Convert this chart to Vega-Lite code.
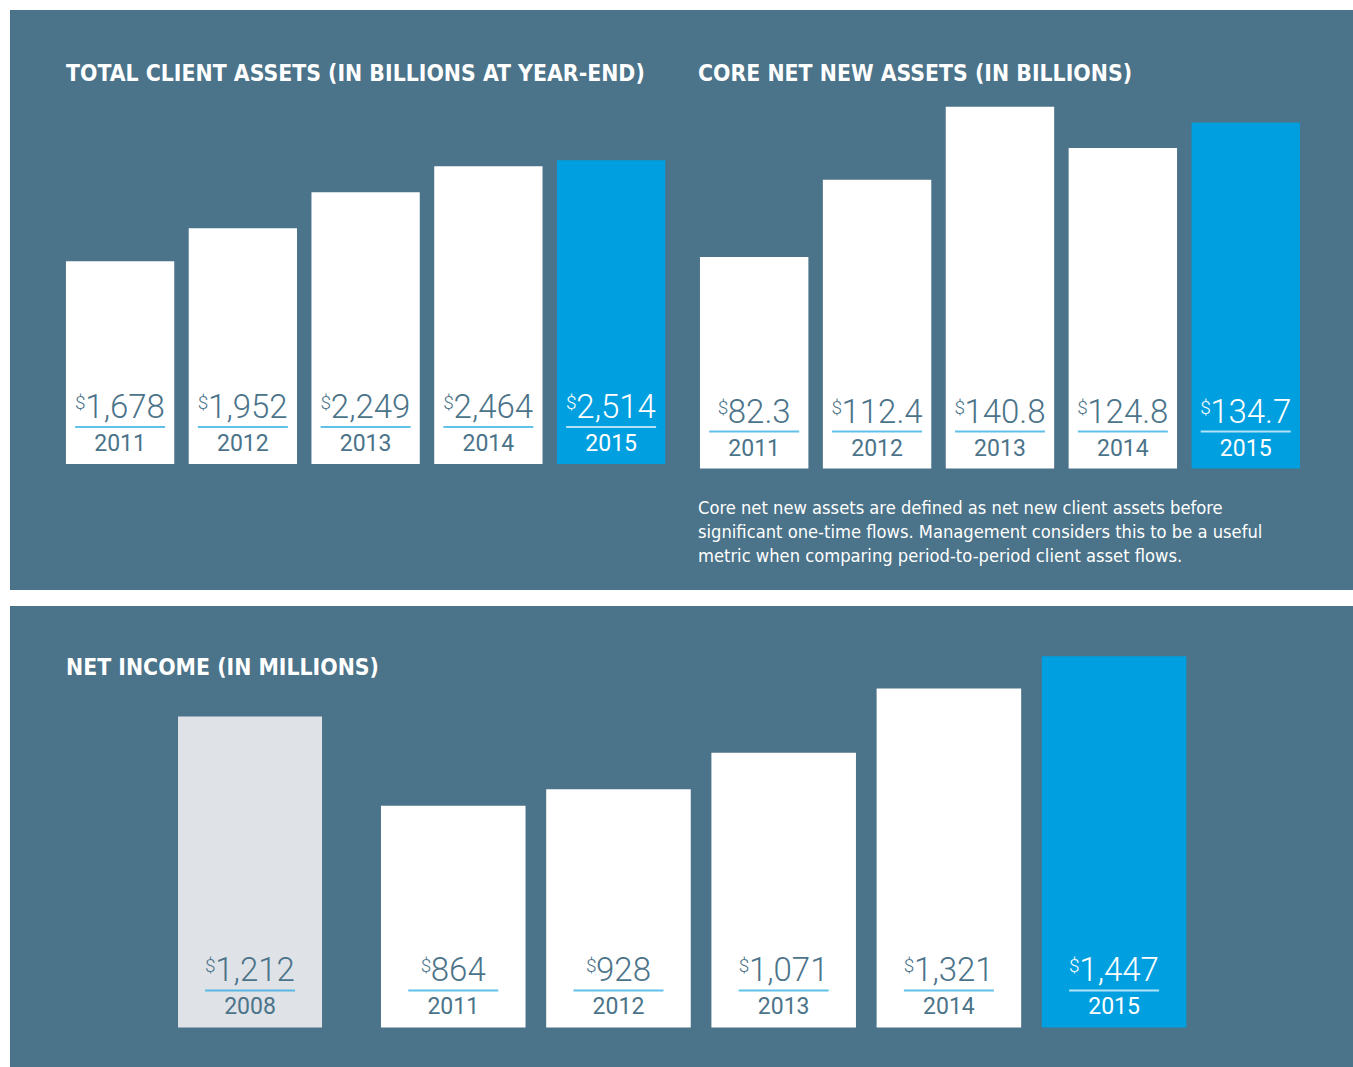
{
  "$schema": "https://vega.github.io/schema/vega-lite/v6.json",
  "background": "white",
  "padding": {"left": 10, "top": 10, "right": 0, "bottom": 0},
  "spacing": 16,
  "config": {
    "view": {"stroke": null, "fill": "#4b7389"},
    "text": {"font": "Roboto"}
  },
  "vconcat": [
    {
      "hconcat": [
        {
          "width": 672,
          "height": 580,
          "title": {"text": "TOTAL CLIENT ASSETS (IN BILLIONS AT YEAR-END)", "anchor": "start", "frame": "group", "orient": "top", "offset": -94, "dx": 56, "baseline": "alphabetic", "font": "DejaVu Sans Condensed", "fontWeight": "bold", "fontSize": 22.8, "color": "white"},
          "data": {"values": [
            {"year": "2011", "assets": 1678, "label": "1,678"},
            {"year": "2012", "assets": 1952, "label": "1,952"},
            {"year": "2013", "assets": 2249, "label": "2,249"},
            {"year": "2014", "assets": 2464, "label": "2,464"},
            {"year": "2015", "assets": 2514, "label": "2,514"}
          ]},
          "encoding": {
            "x": {"field": "year", "type": "ordinal", "axis": null, "scale": {"paddingInner": 0.1177, "paddingOuter": 0.296, "align": 0.77, "round": false}}
          },
          "layer": [
            {"mark": {"type": "bar"}, "encoding": {
              "y": {"field": "assets", "type": "quantitative", "axis": null, "scale": {"domain": [-1043, 3758], "nice": false, "zero": false}},
              "y2": {"datum": 0},
              "color": {"condition": {"test": "datum.year == '2015'", "value": "#009fdf"}, "value": "white"}
            }},
            {"mark": {"type": "text", "font": "Roboto", "fontWeight": 300, "fontSize": 33, "align": "center", "baseline": "alphabetic", "dx": 5, "dy": -46}, "encoding": {
              "y": {"datum": 0}, "text": {"field": "label"},
              "color": {"condition": {"test": "datum.year == '2015'", "value": "white"}, "value": "#4b7389"}
            }},
            {"mark": {"type": "text", "text": "$", "font": "Roboto", "fontWeight": 300, "fontSize": 19, "align": "right", "baseline": "alphabetic", "dx": -34.5, "dy": -55}, "encoding": {
              "y": {"datum": 0},
              "color": {"condition": {"test": "datum.year == '2015'", "value": "white"}, "value": "#4b7389"}
            }},
            {"mark": {"type": "tick", "orient": "horizontal", "size": 90, "thickness": 2, "yOffset": -37}, "encoding": {
              "y": {"datum": 0},
              "color": {"condition": {"test": "datum.year == '2015'", "value": "white"}, "value": "#1ea6df"}
            }},
            {"mark": {"type": "text", "font": "Roboto", "fontSize": 23, "align": "center", "baseline": "alphabetic", "dy": -13}, "encoding": {
              "y": {"datum": 0}, "text": {"field": "year"},
              "color": {"condition": {"test": "datum.year == '2015'", "value": "white"}, "value": "#4b7389"}
            }}
          ]
        },
        {
          "width": 671,
          "height": 580,
          "title": {"text": "CORE NET NEW ASSETS (IN BILLIONS)", "anchor": "start", "frame": "group", "orient": "top", "offset": -94, "dx": 16, "baseline": "alphabetic", "font": "DejaVu Sans Condensed", "fontWeight": "bold", "fontSize": 22.8, "color": "white"},
          "data": {"values": [
            {"year": "2011", "assets": 82.3, "label": "82.3"},
            {"year": "2012", "assets": 112.4, "label": "112.4"},
            {"year": "2013", "assets": 140.8, "label": "140.8"},
            {"year": "2014", "assets": 124.8, "label": "124.8"},
            {"year": "2015", "assets": 134.7, "label": "134.7"}
          ]},
          "encoding": {
            "x": {"field": "year", "type": "ordinal", "axis": null, "scale": {"paddingInner": 0.1177, "paddingOuter": 0.289, "align": 0.253, "round": false}}
          },
          "layer": [
            {"mark": {"type": "bar"}, "encoding": {
              "y": {"field": "assets", "type": "quantitative", "axis": null, "scale": {"domain": [-47.3, 178.5], "nice": false, "zero": false}},
              "y2": {"datum": 0},
              "color": {"condition": {"test": "datum.year == '2015'", "value": "#009fdf"}, "value": "white"}
            }},
            {"mark": {"type": "text", "font": "Roboto", "fontWeight": 300, "fontSize": 33, "align": "center", "baseline": "alphabetic", "dx": 5, "dy": -46}, "encoding": {
              "y": {"datum": 0}, "text": {"field": "label"},
              "color": {"condition": {"test": "datum.year == '2015'", "value": "white"}, "value": "#4b7389"}
            }},
            {"transform": [{"filter": "length(datum.label) == 4"}],
             "mark": {"type": "text", "text": "$", "font": "Roboto", "fontWeight": 300, "fontSize": 19, "align": "right", "baseline": "alphabetic", "dx": -26, "dy": -55}, "encoding": {
              "y": {"datum": 0},
              "color": {"condition": {"test": "datum.year == '2015'", "value": "white"}, "value": "#4b7389"}
            }},
            {"transform": [{"filter": "length(datum.label) == 5"}],
             "mark": {"type": "text", "text": "$", "font": "Roboto", "fontWeight": 300, "fontSize": 19, "align": "right", "baseline": "alphabetic", "dx": -35, "dy": -55}, "encoding": {
              "y": {"datum": 0},
              "color": {"condition": {"test": "datum.year == '2015'", "value": "white"}, "value": "#4b7389"}
            }},
            {"mark": {"type": "tick", "orient": "horizontal", "size": 90, "thickness": 2, "yOffset": -37}, "encoding": {
              "y": {"datum": 0},
              "color": {"condition": {"test": "datum.year == '2015'", "value": "white"}, "value": "#1ea6df"}
            }},
            {"mark": {"type": "text", "font": "Roboto", "fontSize": 23, "align": "center", "baseline": "alphabetic", "dy": -13}, "encoding": {
              "y": {"datum": 0}, "text": {"field": "year"},
              "color": {"condition": {"test": "datum.year == '2015'", "value": "white"}, "value": "#4b7389"}
            }},
            {"data": {"values": [{"caption": ["Core net new assets are defined as net new client assets before", "significant one-time flows. Management considers this to be a useful", "metric when comparing period-to-period client asset flows."]}]},
             "mark": {"type": "text", "font": "DejaVu Sans Condensed", "fontSize": 18.2, "lineHeight": 24, "align": "left", "baseline": "alphabetic", "dx": -2, "dy": 45, "color": "white"},
             "encoding": {
              "x": {"datum": "2011", "type": "ordinal", "bandPosition": 0},
              "y": {"datum": 0},
              "text": {"field": "caption"}
            }}
          ]
        }
      ],
      "spacing": 0
    },
    {
      "title": {"text": "NET INCOME (IN MILLIONS)", "anchor": "start", "frame": "group", "orient": "top", "offset": -92, "dx": 56, "baseline": "alphabetic", "font": "DejaVu Sans Condensed", "fontWeight": "bold", "fontSize": 22.8, "color": "white"},
      "hconcat": [
        {
          "width": 341,
          "height": 461,
          "data": {"values": [
            {"year": "2008", "income": 1212, "label": "1,212"}
          ]},
          "encoding": {
            "x": {"field": "year", "type": "ordinal", "axis": null, "scale": {"paddingInner": 0, "paddingOuter": 0.684, "align": 0.853, "round": false}}
          },
          "layer": [
            {"mark": {"type": "bar", "color": "#dfe2e7"}, "encoding": {
              "y": {"field": "income", "type": "quantitative", "axis": null, "scale": {"domain": [-154, 1642.4], "nice": false, "zero": false}},
              "y2": {"datum": 0}
            }},
            {"mark": {"type": "text", "font": "Roboto", "fontWeight": 300, "fontSize": 33, "align": "center", "baseline": "alphabetic", "dx": 5, "dy": -46, "color": "#4b7389"}, "encoding": {
              "y": {"datum": 0}, "text": {"field": "label"}
            }},
            {"mark": {"type": "text", "text": "$", "font": "Roboto", "fontWeight": 300, "fontSize": 19, "align": "right", "baseline": "alphabetic", "dx": -34.5, "dy": -55, "color": "#4b7389"}, "encoding": {
              "y": {"datum": 0}
            }},
            {"mark": {"type": "tick", "orient": "horizontal", "size": 90, "thickness": 2, "yOffset": -37, "color": "#1ea6df"}, "encoding": {
              "y": {"datum": 0}
            }},
            {"mark": {"type": "text", "font": "Roboto", "fontSize": 23, "align": "center", "baseline": "alphabetic", "dy": -13, "color": "#4b7389"}, "encoding": {
              "y": {"datum": 0}, "text": {"field": "year"}
            }}
          ]
        },
        {
          "width": 1002,
          "height": 461,
          "data": {"values": [
            {"year": "2011", "income": 864, "label": "864"},
            {"year": "2012", "income": 928, "label": "928"},
            {"year": "2013", "income": 1071, "label": "1,071"},
            {"year": "2014", "income": 1321, "label": "1,321"},
            {"year": "2015", "income": 1447, "label": "1,447"}
          ]},
          "encoding": {
            "x": {"field": "year", "type": "ordinal", "axis": null, "scale": {"paddingInner": 0.125, "paddingOuter": 0.595, "align": 0.1525, "round": false}}
          },
          "layer": [
            {"mark": {"type": "bar"}, "encoding": {
              "y": {"field": "income", "type": "quantitative", "axis": null, "scale": {"domain": [-154, 1642.4], "nice": false, "zero": false}},
              "y2": {"datum": 0},
              "color": {"condition": {"test": "datum.year == '2015'", "value": "#009fdf"}, "value": "white"}
            }},
            {"mark": {"type": "text", "font": "Roboto", "fontWeight": 300, "fontSize": 33, "align": "center", "baseline": "alphabetic", "dx": 5, "dy": -46}, "encoding": {
              "y": {"datum": 0}, "text": {"field": "label"},
              "color": {"condition": {"test": "datum.year == '2015'", "value": "white"}, "value": "#4b7389"}
            }},
            {"transform": [{"filter": "length(datum.label) == 3"}],
             "mark": {"type": "text", "text": "$", "font": "Roboto", "fontWeight": 300, "fontSize": 19, "align": "right", "baseline": "alphabetic", "dx": -22, "dy": -55}, "encoding": {
              "y": {"datum": 0},
              "color": {"condition": {"test": "datum.year == '2015'", "value": "white"}, "value": "#4b7389"}
            }},
            {"transform": [{"filter": "length(datum.label) == 5"}],
             "mark": {"type": "text", "text": "$", "font": "Roboto", "fontWeight": 300, "fontSize": 19, "align": "right", "baseline": "alphabetic", "dx": -34.5, "dy": -55}, "encoding": {
              "y": {"datum": 0},
              "color": {"condition": {"test": "datum.year == '2015'", "value": "white"}, "value": "#4b7389"}
            }},
            {"mark": {"type": "tick", "orient": "horizontal", "size": 90, "thickness": 2, "yOffset": -37}, "encoding": {
              "y": {"datum": 0},
              "color": {"condition": {"test": "datum.year == '2015'", "value": "white"}, "value": "#1ea6df"}
            }},
            {"mark": {"type": "text", "font": "Roboto", "fontSize": 23, "align": "center", "baseline": "alphabetic", "dy": -13}, "encoding": {
              "y": {"datum": 0}, "text": {"field": "year"},
              "color": {"condition": {"test": "datum.year == '2015'", "value": "white"}, "value": "#4b7389"}
            }}
          ]
        }
      ],
      "spacing": 0
    }
  ]
}
